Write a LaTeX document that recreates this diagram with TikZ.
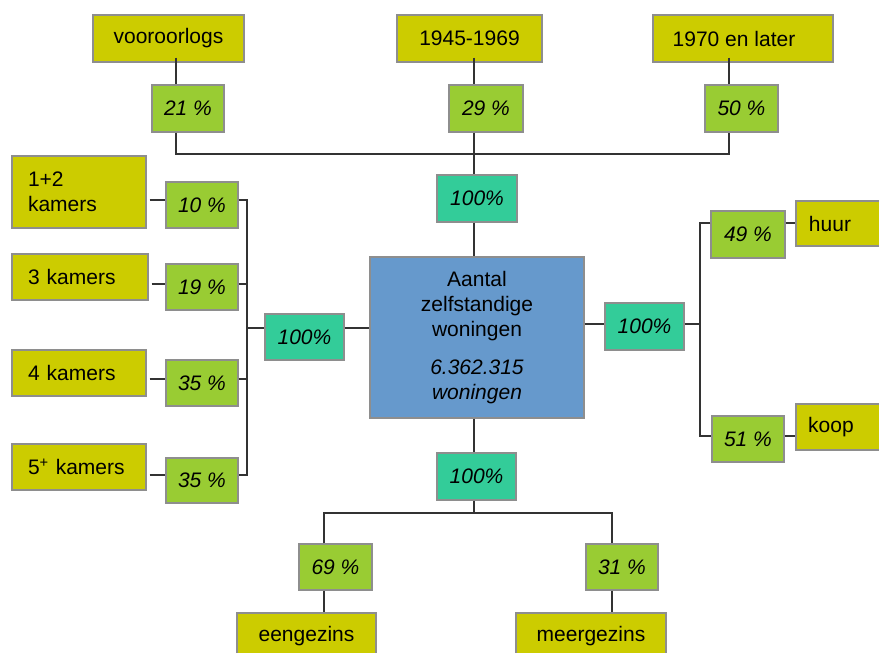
\documentclass[tikz,border=0pt]{standalone}
\usepackage{fontspec}
\setmainfont{Liberation Sans}
\definecolor{cyel}{HTML}{CCCC00}
\definecolor{cgrn}{HTML}{99CC33}
\definecolor{cteal}{HTML}{33CC99}
\definecolor{cblue}{HTML}{6699CC}
\definecolor{cbord}{HTML}{8E8E8E}
\definecolor{cline}{HTML}{333333}
\newcommand{\bodyfs}{\fontsize{21}{25}\selectfont}
\tikzset{
  box/.style={draw=cbord, line width=1.3pt, inner sep=0pt, font=\bodyfs, text=black},
  sz/.style 2 args={minimum width=#1pt, minimum height=#2pt},
  yelbox/.style={box, fill=cyel},
  grnbox/.style={box, fill=cgrn, font=\bodyfs\itshape},
  tealbox/.style={box, fill=cteal, font=\bodyfs\itshape},
  bluebox/.style={box, fill=cblue},
  leftbox/.style={yelbox, align=left, inner xsep=16pt, text width=#1pt},
  conn/.style={draw=cline, line width=1.3pt}
}
\begin{document}
\begin{tikzpicture}[x=1pt, y=-1pt]
\useasboundingbox (0,0) rectangle (879,653);
\clip (0,0) rectangle (879,653);
\fill[white] (0,0) rectangle (879,653);

% top row
\node[yelbox, sz={151}{47}] (yv)  at (168.5,38.5) {vooroorlogs};
\node[yelbox, sz={145}{47}] (y45) at (469.5,38.5) {1945-1969};
\node[yelbox, sz={180}{47}] (y70) at (743,38.5) {1970 en later\hspace*{18pt}};
\node[grnbox, sz={72}{47}] (p21) at (188,108.5) {21 \%};
\node[grnbox, sz={74}{47}] (p29) at (486,108.5) {29 \%};
\node[grnbox, sz={73}{47}] (p50) at (741.5,108.5) {50 \%};

% centre
\node[tealbox, sz={80}{47}] (tt) at (477,198.5) {100\%};
\node[bluebox, sz={214}{161}, align=center] (main) at (477,337.5)
  {Aantal\\zelfstandige\\woningen\\[13pt]\textit{6.362.315}\\\textit{woningen}};
\node[tealbox, sz={79}{46}] (tl) at (304.5,337) {100\%};
\node[tealbox, sz={79}{47}] (tr) at (644.5,326.5) {100\%};
\node[tealbox, sz={79}{47}] (tb) at (476.5,476.5) {100\%};

% left group
\node[leftbox=102, sz={134}{72}] (k12) at (79,192) {1+2\\kamers};
\node[leftbox=104, sz={136}{46}] (k3) at (80,277) {3 kamers};
\node[leftbox=102, sz={134}{46}] (k4) at (79,373) {4 kamers};
\node[leftbox=102, sz={134}{46}] (k5) at (79,467) {5\textsuperscript{+} kamers};
\node[grnbox, sz={72}{46}] (p10) at (202,205) {10 \%};
\node[grnbox, sz={72}{46}] (p19) at (202,287) {19 \%};
\node[grnbox, sz={72}{46}] (p35a) at (202,383) {35 \%};
\node[grnbox, sz={72}{45}] (p35b) at (202,480.5) {35 \%};

% right group
\node[grnbox, sz={74}{47}] (p49) at (748,234.5) {49 \%};
\node[grnbox, sz={72}{46}] (p51) at (748,439) {51 \%};
\node[yelbox, sz={88}{45}, align=left] (huur) at (840,223.5) {huur\hspace*{20pt}};
\node[yelbox, sz={88}{46}, align=left] (koop) at (840,427) {koop\hspace*{18pt}};

% bottom group
\node[grnbox, sz={73}{46}] (p69) at (335.5,567) {69 \%};
\node[grnbox, sz={72}{46}] (p31) at (622,567) {31 \%};
\node[yelbox, sz={139}{47}] (eeng) at (306.5,636.5) {eengezins};
\node[yelbox, sz={150}{47}] (meer) at (591,636.5) {meergezins};

% connector coordinates
\coordinate (cx1) at (176,154);
\coordinate (cx2) at (474,154);
\coordinate (cx3) at (729,154);
\coordinate (ly1) at (247,200);
\coordinate (ly2) at (247,284);
\coordinate (ly3) at (247,379);
\coordinate (ly4) at (247,475);
\coordinate (lmid) at (247,328);
\coordinate (rmid) at (700,324);
\coordinate (ry1) at (700,223);
\coordinate (ry2) at (700,436);
\coordinate (bl) at (324,513);
\coordinate (br) at (612,513);

% top connectors
\draw[conn] ([yshift=5pt]yv.south -| cx1) -- (p21.north -| cx1);
\draw[conn] ([yshift=5pt]y45.south -| cx2) -- (p29.north -| cx2);
\draw[conn] ([yshift=5pt]y70.south -| cx3) -- (p50.north -| cx3);
\draw[conn] (p21.south -| cx1) -- (cx1) -- (cx3) -- (p50.south -| cx3);
\draw[conn] (p29.south -| cx2) -- (tt.north -| cx2);
\draw[conn] (tt.south -| cx2) -- (main.north -| cx2);

% left connectors
\draw[conn] ([xshift=3pt]k12.east |- ly1) -- (p10.west |- ly1);
\draw[conn] ([xshift=3pt]k3.east |- ly2) -- (p19.west |- ly2);
\draw[conn] ([xshift=3pt]k4.east |- ly3) -- (p35a.west |- ly3);
\draw[conn] ([xshift=3pt]k5.east |- ly4) -- (p35b.west |- ly4);
\draw[conn] (p10.east |- ly1) -- (ly1) -- (ly4) -- (p35b.east |- ly4);
\draw[conn] (p19.east |- ly2) -- (ly2);
\draw[conn] (p35a.east |- ly3) -- (ly3);
\draw[conn] (lmid) -- (tl.west |- lmid);
\draw[conn] (tl.east |- lmid) -- (main.west |- lmid);

% right connectors
\draw[conn] (main.east |- rmid) -- (tr.west |- rmid);
\draw[conn] (tr.east |- rmid) -- (rmid);
\draw[conn] (p49.west |- ry1) -- (ry1) -- (ry2) -- (p51.west |- ry2);
\draw[conn] (p49.east |- ry1) -- (huur.west |- ry1);
\draw[conn] (p51.east |- ry2) -- (koop.west |- ry2);

% bottom connectors
\draw[conn] (main.south -| cx2) -- (tb.north -| cx2);
\draw[conn] (tb.south -| cx2) -- (cx2 |- bl);
\draw[conn] (p69.north -| bl) -- (bl) -- (br) -- (p31.north -| br);
\draw[conn] (p69.south -| bl) -- (eeng.north -| bl);
\draw[conn] (p31.south -| br) -- (meer.north -| br);
\end{tikzpicture}
\end{document}
